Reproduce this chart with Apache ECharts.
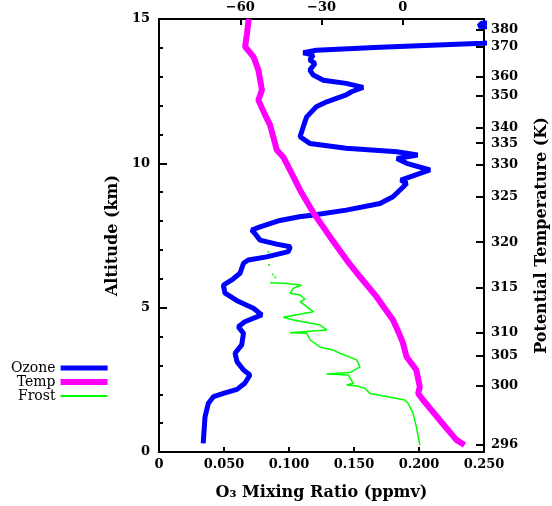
<!DOCTYPE html>
<html>
<head>
<meta charset="utf-8">
<script src="https://cdn.jsdelivr.net/npm/echarts@6/dist/echarts.min.js"></script>
<style>
  html, body { margin: 0; padding: 0; background: #fff; }
  #chart { width: 552px; height: 506px; }
</style>
</head>
<body>
<div id="chart"></div>
<script>
// Ozone sonde profile: mixing ratio (ppmv) against altitude (km)
const ozoneAltitude = [0.30, 1.22, 1.69, 1.92, 2.03, 2.17, 2.38, 2.67, 2.84, 3.13, 3.42, 3.71, 4.11, 4.34, 4.51, 4.75, 4.98, 5.24, 5.50, 5.78, 5.96, 6.19, 6.54, 6.65, 6.76, 6.94, 7.11, 7.20, 7.34, 7.57, 7.69, 7.80, 8.02, 8.15, 8.21, 8.38, 8.61, 8.84, 9.19, 9.31, 9.42, 9.77, 10.00, 10.17, 10.29, 10.40, 10.52, 10.69, 10.92, 11.27, 11.61, 11.96, 12.13, 12.37, 12.48, 12.63, 12.77, 12.88, 13.06, 13.23, 13.46, 13.58, 13.75, 13.83, 13.92, 14.02, 14.16, 14.30, 14.60, 14.75, 14.85, 14.95];
const ozoneMixing = [0.034, 0.0354, 0.038, 0.042, 0.0495, 0.060, 0.066, 0.070, 0.065, 0.060, 0.0585, 0.0636, 0.065, 0.061, 0.066, 0.079, 0.0726, 0.060, 0.0508, 0.0495, 0.056, 0.0623, 0.065, 0.0687, 0.0828, 0.0995, 0.101, 0.0905, 0.0777, 0.0738, 0.0713, 0.0777, 0.093, 0.108, 0.119, 0.144, 0.170, 0.180, 0.188, 0.1905, 0.186, 0.2085, 0.1905, 0.183, 0.199, 0.183, 0.144, 0.116, 0.1085, 0.111, 0.1136, 0.121, 0.129, 0.144, 0.148, 0.157, 0.144, 0.1264, 0.1187, 0.116, 0.120, 0.116, 0.1187, 0.111, 0.121, 0.170, 0.249, 0.300, 0.300, 0.246, 0.248, 0.300];

// Air temperature (deg C) against altitude (km)
const tempAltitude = [0.24, 0.42, 1.11, 1.80, 2.03, 2.26, 2.84, 3.30, 3.77, 4.05, 4.57, 5.38, 6.07, 6.65, 7.46, 8.29, 9.07, 9.54, 10.20, 10.46, 11.33, 11.67, 12.19, 12.54, 13.23, 13.69, 14.04, 14.50, 15.00];
const tempCelsius = [22.8, 19.8, 13.6, 7.5, 5.7, 6.3, 5.0, 1.4, 0.1, -1.1, -3.6, -9.7, -15.8, -20.7, -26.9, -33.0, -37.9, -40.4, -44.0, -46.5, -49.0, -50.8, -53.3, -52.0, -53.3, -55.1, -58.2, -57.5, -56.9];

// Frost point (deg C) against altitude (km)
const frostAltitude = [0.24, 0.88, 1.34, 1.69, 1.80, 1.92, 2.03, 2.21, 2.29, 2.32, 2.38, 2.67, 2.70, 2.75, 2.95, 3.19, 3.42, 3.53, 3.63, 3.88, 4.11, 4.13, 4.23, 4.40, 4.57, 4.67, 4.86, 5.03, 5.21, 5.29, 5.44, 5.50, 5.67, 5.78, 5.84, 5.86];
const frostCelsius = [6.3, 5.0, 3.8, 2.0, 0.7, -6.0, -12.1, -14.0, -17.0, -20.7, -18.3, -20.1, -28.1, -19.5, -15.8, -17.0, -23.2, -25.6, -30.5, -34.2, -35.4, -41.6, -28.1, -30.5, -40.4, -44.1, -33.0, -35.4, -37.9, -36.1, -37.9, -41.6, -40.4, -37.3, -42.9, -49.0];
// isolated frost-point readings above the continuous record
const frostDotAltitude = [6.05, 6.15, 6.48, 6.93];
const frostDotCelsius = [-47.1, -48.0, -49.4, -49.6];

// Potential temperature scale (K) and the altitude each value sits at
const thetaLabels = [296, 300, 305, 310, 315, 320, 325, 330, 335, 340, 350, 360, 370, 380];
const thetaAltitude = [0.24, 2.29, 3.33, 4.12, 5.68, 7.27, 8.83, 9.94, 10.70, 11.22, 12.33, 12.99, 14.03, 14.62];

// Tick values of the three value scales
const altitudeTicks = [0, 5, 10, 15];
const mixingTicks = [0, 0.05, 0.10, 0.15, 0.20, 0.25];
const tempTickLabels = [-60, -30, 0];

const zip = (xs, ys) => xs.map((x, i) => [x, ys[i]]);

const LABEL_FONT = 'DejaVu Serif';
const tickText = { color: '#000', fontFamily: LABEL_FONT, fontWeight: 'bold', fontSize: 13 };
const titleText = { color: '#000', fontFamily: LABEL_FONT, fontWeight: 'bold', fontSize: 16 };
const axisLine = { show: true, onZero: false, lineStyle: { color: '#000', width: 2 } };

// legend swatches: flat bars as thick as each series' line
const bar = h => 'path://M0,0H47V' + h + 'H0Z';

const chart = echarts.init(document.getElementById('chart'), null, { renderer: 'canvas' });

chart.setOption({
  animation: false,
  backgroundColor: '#fff',
  grid: { left: 159, right: 68, top: 19, bottom: 54, containLabel: false, outerBoundsMode: 'none' },
  legend: {
    orient: 'vertical',
    left: 6,
    top: 356,
    align: 'right',
    itemWidth: 47,
    itemHeight: 14,
    itemGap: 0,
    selectedMode: false,
    data: [
      { name: 'Ozone', icon: bar(5) },
      { name: 'Temp', icon: bar(6) },
      { name: 'Frost', icon: bar(2) }
    ],
    textStyle: { color: '#000', fontFamily: LABEL_FONT, fontSize: 14 }
  },
  xAxis: [
    {
      type: 'value',
      position: 'bottom',
      min: mixingTicks[0],
      max: mixingTicks[mixingTicks.length - 1],
      interval: 0.05,
      name: 'O\u2083 Mixing Ratio (ppmv)',
      nameLocation: 'middle',
      nameGap: 33,
      nameTextStyle: titleText,
      axisLine: axisLine,
      axisTick: { inside: true, length: 5, lineStyle: { color: '#000', width: 2 } },
      axisLabel: Object.assign({ margin: 6, formatter: v => (v === 0 ? '0' : v.toFixed(3)) }, tickText),
      splitLine: { show: false }
    },
    {
      type: 'value',
      position: 'top',
      min: -90,
      max: 30,
      interval: 30,
      axisLine: axisLine,
      axisTick: { inside: true, length: 6, lineStyle: { color: '#000', width: 2 } },
      axisLabel: Object.assign({
        margin: 5,
        formatter: v => (tempTickLabels.includes(v) ? (v < 0 ? '\u2212' + Math.abs(v) : String(v)) : '')
      }, tickText),
      splitLine: { show: false }
    }
  ],
  yAxis: [
    {
      type: 'value',
      position: 'left',
      min: altitudeTicks[0],
      max: altitudeTicks[altitudeTicks.length - 1],
      interval: 5,
      name: 'Altitude (km)',
      nameLocation: 'middle',
      nameRotate: 90,
      nameGap: 38,
      nameTextStyle: titleText,
      axisLine: axisLine,
      axisTick: { inside: true, length: 8, lineStyle: { color: '#000', width: 2 } },
      minorTick: { show: true, splitNumber: 5, length: 4, lineStyle: { color: '#000', width: 2 } },
      axisLabel: Object.assign({ margin: 9 }, tickText),
      splitLine: { show: false },
      minorSplitLine: { show: false }
    },
    {
      type: 'value',
      position: 'right',
      min: altitudeTicks[0],
      max: altitudeTicks[altitudeTicks.length - 1],
      name: 'Potential Temperature (K)',
      nameLocation: 'middle',
      nameRotate: 90,
      nameGap: 50,
      nameTextStyle: titleText,
      axisLine: axisLine,
      axisTick: { inside: true, length: 8, customValues: thetaAltitude, lineStyle: { color: '#000', width: 2 } },
      axisLabel: Object.assign({
        margin: 7,
        customValues: thetaAltitude,
        formatter: v => {
          const i = thetaAltitude.findIndex(a => Math.abs(a - v) < 1e-6);
          return i >= 0 ? String(thetaLabels[i]) : '';
        }
      }, tickText),
      splitLine: { show: false }
    }
  ],
  series: [
    {
      name: 'Ozone',
      type: 'line',
      xAxisIndex: 0,
      yAxisIndex: 0,
      data: zip(ozoneMixing, ozoneAltitude),
      symbol: 'none',
      clip: true,
      lineStyle: { color: '#0000ff', width: 5 },
      itemStyle: { color: '#0000ff' },
      z: 3
    },
    {
      name: 'Temp',
      type: 'line',
      xAxisIndex: 1,
      yAxisIndex: 0,
      data: zip(tempCelsius, tempAltitude),
      symbol: 'none',
      clip: true,
      lineStyle: { color: '#ff00ff', width: 6 },
      itemStyle: { color: '#ff00ff' },
      z: 4
    },
    {
      name: 'Frost',
      type: 'line',
      xAxisIndex: 1,
      yAxisIndex: 0,
      data: zip(frostCelsius, frostAltitude),
      symbol: 'none',
      clip: true,
      lineStyle: { color: '#00ff00', width: 1.5 },
      itemStyle: { color: '#00ff00' },
      z: 2
    },
    {
      name: 'Frost',
      type: 'scatter',
      xAxisIndex: 1,
      yAxisIndex: 0,
      data: zip(frostDotCelsius, frostDotAltitude),
      symbol: 'rect',
      symbolSize: 2,
      itemStyle: { color: '#00ff00' },
      z: 2
    }
  ]
});
</script>
</body>
</html>
